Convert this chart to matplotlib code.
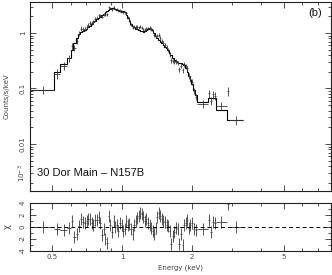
import numpy as np
import matplotlib
matplotlib.use("Agg")
import matplotlib.pyplot as plt
from matplotlib.ticker import LogLocator, MultipleLocator, NullFormatter

# energy bin edges (keV)
bin_edges = [0.40, 0.51, 0.54, 0.58, 0.60, 0.615, 0.63, 0.645, 0.66, 0.672,
             0.684, 0.696, 0.708, 0.72, 0.733, 0.746, 0.759, 0.772, 0.785, 0.798,
             0.812, 0.826, 0.84, 0.854, 0.868, 0.882, 0.897, 0.912, 0.927, 0.942,
             0.957, 0.972, 0.988, 1.004, 1.02, 1.036, 1.052, 1.068, 1.085, 1.102,
             1.119, 1.136, 1.154, 1.172, 1.19, 1.208, 1.227, 1.246, 1.265, 1.285,
             1.305, 1.325, 1.345, 1.366, 1.387, 1.408, 1.43, 1.452, 1.475, 1.498,
             1.521, 1.545, 1.569, 1.594, 1.619, 1.644, 1.67, 1.696, 1.723, 1.75,
             1.78, 1.81, 1.84, 1.87, 1.9, 1.93, 1.96, 1.99, 2.03, 2.07,
             2.11, 2.35, 2.40, 2.45, 2.50, 2.54, 2.83, 2.89, 3.32]

# folded model (counts/s/keV) per bin
model_rate = [0.094, 0.20, 0.276, 0.36, 0.50, 0.65, 0.82, 0.95, 1.04, 1.08,
              1.13, 1.20, 1.27, 1.35, 1.45, 1.55, 1.65, 1.76, 1.88, 1.98,
              2.10, 2.22, 2.35, 2.48, 2.62, 2.75, 2.82, 2.80, 2.72, 2.64,
              2.56, 2.48, 2.44, 2.45, 2.40, 2.15, 1.90, 1.65, 1.45, 1.33,
              1.26, 1.20, 1.16, 1.13, 1.10, 1.07, 1.05, 1.07, 1.12, 1.17,
              1.21, 1.20, 1.12, 1.00, 0.88, 0.80, 0.74, 0.69, 0.65, 0.61,
              0.57, 0.54, 0.49, 0.44, 0.40, 0.36, 0.33, 0.31, 0.30, 0.29,
              0.29, 0.28, 0.26, 0.23, 0.20, 0.17, 0.145, 0.12, 0.095, 0.075,
              0.057, 0.067, 0.067, 0.067, 0.067, 0.041, 0.027, 0.027]

# residuals in sigma
chi = [0.0, -0.4, -0.5, -0.2, 1.0, -1.7, -1.2, 0.2, 1.4, 0.9,
       0.6, 1.0, 1.3, 1.4, 0.7, 0.3, 1.2, 1.1, 1.7, 0.6,
       -1.3, -0.4, -2.0, -2.6, 1.8, 0.4, -0.9, 1.0, 0.0, 0.4,
       -0.6, 0.7, 0.3, -0.7, -0.4, 1.0, 0.4, 0.5, -0.4, -1.2,
       0.4, 1.0, 1.5, 1.8, 2.4, 2.1, 1.6, 1.0, 1.3, 0.7,
       0.3, -0.1, -0.7, -1.2, -0.1, 1.6, 2.4, 1.8, 1.3, 1.0,
       0.9, 0.4, 0.2, -0.7, -2.8, -1.5, -0.9, -0.1, -0.4, -2.9,
       -1.2, -3.0, 0.4, 0.7, 1.2, -0.1, 0.3, 0.6, -0.3, -0.5,
       -0.4, 1.1, -0.8, 0.9, 0.6, 0.9, 3.9, 0.0]

# fractional error of each data point
rel_err = [0.17, 0.20, 0.17, 0.15, 0.13, 0.12, 0.11, 0.10, 0.095, 0.09,
           0.085, 0.08, 0.08, 0.075, 0.07, 0.07, 0.065, 0.065, 0.06, 0.06,
           0.055, 0.055, 0.055, 0.055, 0.055, 0.055, 0.055, 0.055, 0.055, 0.055,
           0.055, 0.055, 0.055, 0.06, 0.06, 0.06, 0.06, 0.06, 0.06, 0.06,
           0.065, 0.065, 0.065, 0.065, 0.065, 0.065, 0.065, 0.065, 0.065, 0.065,
           0.07, 0.07, 0.07, 0.07, 0.07, 0.07, 0.08, 0.08, 0.08, 0.08,
           0.08, 0.08, 0.09, 0.09, 0.09, 0.09, 0.09, 0.09, 0.10, 0.10,
           0.10, 0.10, 0.11, 0.11, 0.11, 0.11, 0.11, 0.13, 0.13, 0.13,
           0.16, 0.16, 0.16, 0.16, 0.16, 0.17, 0.18, 0.20]

x_ticks = [0.5, 1, 2, 5]
x_tick_labels = ["0.5", "1", "2", "5"]
y_ticks = [0.01, 0.1, 1]
y_tick_labels = ["0.01", "0.1", "1"]
chi_ticks = [-4, -2, 0, 2, 4]
chi_tick_labels = ["-4", "-2", "0", "2", "4"]

edges = np.array(bin_edges)
model = np.array(model_rate)
res = np.array(chi)
rerr = np.array(rel_err)
lo, hi = edges[:-1], edges[1:]
mid = (lo + hi) / 2
xerr = [mid - lo, hi - mid]
data = model / (1 - res * rerr)
derr = rerr * data

txt = "#444444"
fig = plt.figure(figsize=(3.32, 2.75), dpi=100)
ax = fig.add_axes([30 / 332, 84 / 275, 301 / 332, 189 / 275])
ax2 = fig.add_axes([30 / 332, 24 / 275, 301 / 332, 48 / 275])

ax.errorbar(mid, data, xerr=xerr, yerr=derr, fmt="none",
            ecolor="#3a3a3a", elinewidth=0.6, capsize=0)
ax.stairs(model, edges, baseline=None, color="k", lw=0.8)

ax2.errorbar(mid, res, xerr=xerr, yerr=1, fmt="none",
             ecolor="#3a3a3a", elinewidth=0.6, capsize=0)
ax2.axhline(0, color="k", lw=0.7, ls=(0, (4, 3)))

for a in (ax, ax2):
    a.set_xscale("log")
    a.set_xlim(0.40, 8.0)
    a.set_xticks(x_ticks)
    a.xaxis.set_minor_locator(LogLocator(base=10, subs=range(2, 10)))
    a.xaxis.set_minor_formatter(NullFormatter())
    a.tick_params(which="both", direction="in", top=True, right=True,
                  width=0.6, colors="#333333", labelcolor=txt, labelsize=5, pad=3)
    a.tick_params(which="major", length=4)
    a.tick_params(which="minor", length=2)
    for s in a.spines.values():
        s.set_linewidth(0.8)
        s.set_color("#222222")

ax.set_xticklabels([])
ax2.set_xticklabels(x_tick_labels)
ax2.tick_params(axis="x", pad=2.5)

ax.set_yscale("log")
ax.set_ylim(1.42e-3, 3.62)
ax.set_yticks(y_ticks)
ax.set_yticklabels(y_tick_labels)
ax.yaxis.set_minor_locator(LogLocator(base=10, subs=range(2, 10)))
ax.yaxis.set_minor_formatter(NullFormatter())

ax2.set_ylim(-4, 4)
ax2.set_yticks(chi_ticks)
ax2.set_yticklabels(chi_tick_labels)
ax2.yaxis.set_minor_locator(MultipleLocator(1))

for a in (ax, ax2):
    for lab in a.get_yticklabels():
        lab.set_rotation(90)
        lab.set_va("center")

# lowest decade label sits near the panel bottom in the original
fig.text(22 / 332, 1 - 173 / 275, r"$10^{-3}$", rotation=90, ha="center",
         va="center", fontsize=5, color=txt)

fig.text(7 / 332, 1 - 96 / 275, "Counts/s/keV", rotation=90, ha="center",
         va="center", fontsize=5, color=txt)
fig.text(7 / 332, 1 - 227 / 275, "\u03c7", rotation=90, ha="center",
         va="center", fontsize=6, color=txt)
fig.text(180 / 332, 1 - 268 / 275, "Energy (keV)", ha="center", va="center",
         fontsize=5, color=txt)

ax.text(0.023, 0.095, "30 Dor Main \u2013 N157B", transform=ax.transAxes,
        ha="left", va="center", fontsize=8, family="Liberation Sans", color="#111111")
ax.text(0.947, 0.942, "(b)", transform=ax.transAxes, ha="center", va="center",
        fontsize=8, family="Liberation Sans", color="#111111")

fig.savefig("out.png", dpi=100)
